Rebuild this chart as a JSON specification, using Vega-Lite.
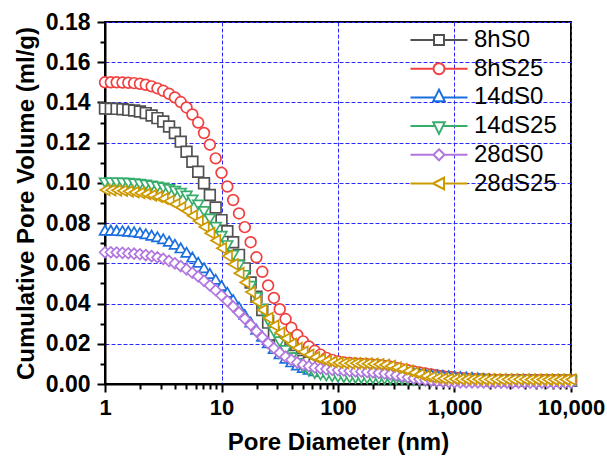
{
"$schema":"https://vega.github.io/schema/vega-lite/v6.json",
"width":466,"height":362,
"autosize":{"type":"none"},
"padding":{"left":105,"top":22,"right":36,"bottom":77},
"background":"white",
"config":{"view":{"stroke":"black","strokeWidth":2},"font":"Liberation Sans"},
"datasets":{"d":[
{"s":"8hS0","x":1,"y":0.137},{"s":"8hS0","x":1.122,"y":0.1369},{"s":"8hS0","x":1.259,"y":0.1368},{"s":"8hS0","x":1.413,"y":0.1366},{"s":"8hS0","x":1.585,"y":0.1363},{"s":"8hS0","x":1.778,"y":0.136},{"s":"8hS0","x":1.995,"y":0.1355},{"s":"8hS0","x":2.239,"y":0.1347},{"s":"8hS0","x":2.512,"y":0.1335},{"s":"8hS0","x":2.818,"y":0.1322},
{"s":"8hS0","x":3.162,"y":0.1305},{"s":"8hS0","x":3.548,"y":0.128},{"s":"8hS0","x":3.981,"y":0.1248},{"s":"8hS0","x":4.467,"y":0.1205},{"s":"8hS0","x":5.012,"y":0.1155},{"s":"8hS0","x":5.623,"y":0.1105},{"s":"8hS0","x":6.31,"y":0.1055},{"s":"8hS0","x":7.079,"y":0.0998},{"s":"8hS0","x":7.943,"y":0.094},{"s":"8hS0","x":8.913,"y":0.0878},
{"s":"8hS0","x":10,"y":0.0815},{"s":"8hS0","x":11.22,"y":0.076},{"s":"8hS0","x":12.59,"y":0.0705},{"s":"8hS0","x":14.13,"y":0.0642},{"s":"8hS0","x":15.85,"y":0.0575},{"s":"8hS0","x":17.78,"y":0.0505},{"s":"8hS0","x":19.95,"y":0.0434},{"s":"8hS0","x":22.39,"y":0.0368},{"s":"8hS0","x":25.12,"y":0.0305},{"s":"8hS0","x":28.18,"y":0.0245},
{"s":"8hS0","x":31.62,"y":0.0195},{"s":"8hS0","x":35.48,"y":0.0163},{"s":"8hS0","x":39.81,"y":0.014},{"s":"8hS0","x":44.67,"y":0.0126},{"s":"8hS0","x":50.12,"y":0.0115},{"s":"8hS0","x":56.23,"y":0.0107},{"s":"8hS0","x":63.1,"y":0.0101},{"s":"8hS0","x":70.79,"y":0.0097},{"s":"8hS0","x":79.43,"y":0.0094},{"s":"8hS0","x":89.13,"y":0.0092},
{"s":"8hS0","x":100,"y":0.009},{"s":"8hS0","x":112.2,"y":0.0089},{"s":"8hS0","x":125.9,"y":0.0088},{"s":"8hS0","x":141.3,"y":0.0087},{"s":"8hS0","x":158.5,"y":0.0086},{"s":"8hS0","x":177.8,"y":0.0085},{"s":"8hS0","x":199.5,"y":0.0083},{"s":"8hS0","x":223.9,"y":0.0081},{"s":"8hS0","x":251.2,"y":0.0078},{"s":"8hS0","x":281.8,"y":0.0074},
{"s":"8hS0","x":316.2,"y":0.007},{"s":"8hS0","x":354.8,"y":0.0065},{"s":"8hS0","x":398.1,"y":0.006},{"s":"8hS0","x":446.7,"y":0.0055},{"s":"8hS0","x":501.2,"y":0.005},{"s":"8hS0","x":562.3,"y":0.0045},{"s":"8hS0","x":631,"y":0.0041},{"s":"8hS0","x":707.9,"y":0.0037},{"s":"8hS0","x":794.3,"y":0.0034},{"s":"8hS0","x":891.3,"y":0.0031},
{"s":"8hS0","x":1000,"y":0.0028},{"s":"8hS0","x":1122,"y":0.0026},{"s":"8hS0","x":1259,"y":0.0024},{"s":"8hS0","x":1413,"y":0.0022},{"s":"8hS0","x":1585,"y":0.0021},{"s":"8hS0","x":1778,"y":0.002},{"s":"8hS0","x":1995,"y":0.0019},{"s":"8hS0","x":2239,"y":0.0019},{"s":"8hS0","x":2512,"y":0.0018},{"s":"8hS0","x":2818,"y":0.0018},
{"s":"8hS0","x":3162,"y":0.0018},{"s":"8hS0","x":3548,"y":0.0017},{"s":"8hS0","x":3981,"y":0.0017},{"s":"8hS0","x":4467,"y":0.0017},{"s":"8hS0","x":5012,"y":0.0017},{"s":"8hS0","x":5623,"y":0.0016},{"s":"8hS0","x":6310,"y":0.0016},{"s":"8hS0","x":7079,"y":0.0016},{"s":"8hS0","x":7943,"y":0.0016},{"s":"8hS0","x":8913,"y":0.0016},
{"s":"8hS0","x":10000,"y":0.0016},
{"s":"8hS25","x":1,"y":0.15},{"s":"8hS25","x":1.122,"y":0.15},{"s":"8hS25","x":1.259,"y":0.15},{"s":"8hS25","x":1.413,"y":0.1499},{"s":"8hS25","x":1.585,"y":0.1498},{"s":"8hS25","x":1.778,"y":0.1496},{"s":"8hS25","x":1.995,"y":0.1493},{"s":"8hS25","x":2.239,"y":0.1488},{"s":"8hS25","x":2.512,"y":0.148},{"s":"8hS25","x":2.818,"y":0.147},
{"s":"8hS25","x":3.162,"y":0.1458},{"s":"8hS25","x":3.548,"y":0.1443},{"s":"8hS25","x":3.981,"y":0.1425},{"s":"8hS25","x":4.467,"y":0.1402},{"s":"8hS25","x":5.012,"y":0.1375},{"s":"8hS25","x":5.623,"y":0.134},{"s":"8hS25","x":6.31,"y":0.13},{"s":"8hS25","x":7.079,"y":0.1248},{"s":"8hS25","x":7.943,"y":0.119},{"s":"8hS25","x":8.913,"y":0.1122},
{"s":"8hS25","x":10,"y":0.105},{"s":"8hS25","x":11.22,"y":0.0982},{"s":"8hS25","x":12.59,"y":0.0915},{"s":"8hS25","x":14.13,"y":0.0848},{"s":"8hS25","x":15.85,"y":0.078},{"s":"8hS25","x":17.78,"y":0.0705},{"s":"8hS25","x":19.95,"y":0.063},{"s":"8hS25","x":22.39,"y":0.0558},{"s":"8hS25","x":25.12,"y":0.049},{"s":"8hS25","x":28.18,"y":0.0428},
{"s":"8hS25","x":31.62,"y":0.0372},{"s":"8hS25","x":35.48,"y":0.0323},{"s":"8hS25","x":39.81,"y":0.028},{"s":"8hS25","x":44.67,"y":0.0244},{"s":"8hS25","x":50.12,"y":0.0212},{"s":"8hS25","x":56.23,"y":0.0187},{"s":"8hS25","x":63.1,"y":0.0165},{"s":"8hS25","x":70.79,"y":0.0146},{"s":"8hS25","x":79.43,"y":0.013},{"s":"8hS25","x":89.13,"y":0.012},
{"s":"8hS25","x":100,"y":0.0112},{"s":"8hS25","x":112.2,"y":0.0107},{"s":"8hS25","x":125.9,"y":0.0104},{"s":"8hS25","x":141.3,"y":0.0102},{"s":"8hS25","x":158.5,"y":0.01},{"s":"8hS25","x":177.8,"y":0.0098},{"s":"8hS25","x":199.5,"y":0.0096},{"s":"8hS25","x":223.9,"y":0.0093},{"s":"8hS25","x":251.2,"y":0.009},{"s":"8hS25","x":281.8,"y":0.0086},
{"s":"8hS25","x":316.2,"y":0.008},{"s":"8hS25","x":354.8,"y":0.0074},{"s":"8hS25","x":398.1,"y":0.0068},{"s":"8hS25","x":446.7,"y":0.0062},{"s":"8hS25","x":501.2,"y":0.0057},{"s":"8hS25","x":562.3,"y":0.0052},{"s":"8hS25","x":631,"y":0.0047},{"s":"8hS25","x":707.9,"y":0.0043},{"s":"8hS25","x":794.3,"y":0.0039},{"s":"8hS25","x":891.3,"y":0.0036},
{"s":"8hS25","x":1000,"y":0.0033},{"s":"8hS25","x":1122,"y":0.003},{"s":"8hS25","x":1259,"y":0.0028},{"s":"8hS25","x":1413,"y":0.0026},{"s":"8hS25","x":1585,"y":0.0024},{"s":"8hS25","x":1778,"y":0.0022},{"s":"8hS25","x":1995,"y":0.0021},{"s":"8hS25","x":2239,"y":0.002},{"s":"8hS25","x":2512,"y":0.0019},{"s":"8hS25","x":2818,"y":0.0019},
{"s":"8hS25","x":3162,"y":0.0018},{"s":"8hS25","x":3548,"y":0.0018},{"s":"8hS25","x":3981,"y":0.0018},{"s":"8hS25","x":4467,"y":0.0017},{"s":"8hS25","x":5012,"y":0.0017},{"s":"8hS25","x":5623,"y":0.0017},{"s":"8hS25","x":6310,"y":0.0017},{"s":"8hS25","x":7079,"y":0.0016},{"s":"8hS25","x":7943,"y":0.0016},{"s":"8hS25","x":8913,"y":0.0016},
{"s":"8hS25","x":10000,"y":0.0016},
{"s":"14dS0","x":1,"y":0.0765},{"s":"14dS0","x":1.122,"y":0.0765},{"s":"14dS0","x":1.259,"y":0.0764},{"s":"14dS0","x":1.413,"y":0.0762},{"s":"14dS0","x":1.585,"y":0.076},{"s":"14dS0","x":1.778,"y":0.0757},{"s":"14dS0","x":1.995,"y":0.0753},{"s":"14dS0","x":2.239,"y":0.0747},{"s":"14dS0","x":2.512,"y":0.074},{"s":"14dS0","x":2.818,"y":0.0732},
{"s":"14dS0","x":3.162,"y":0.0722},{"s":"14dS0","x":3.548,"y":0.071},{"s":"14dS0","x":3.981,"y":0.0695},{"s":"14dS0","x":4.467,"y":0.0677},{"s":"14dS0","x":5.012,"y":0.0655},{"s":"14dS0","x":5.623,"y":0.0631},{"s":"14dS0","x":6.31,"y":0.0605},{"s":"14dS0","x":7.079,"y":0.0578},{"s":"14dS0","x":7.943,"y":0.055},{"s":"14dS0","x":8.913,"y":0.0521},
{"s":"14dS0","x":10,"y":0.049},{"s":"14dS0","x":11.22,"y":0.0456},{"s":"14dS0","x":12.59,"y":0.042},{"s":"14dS0","x":14.13,"y":0.0383},{"s":"14dS0","x":15.85,"y":0.0345},{"s":"14dS0","x":17.78,"y":0.0308},{"s":"14dS0","x":19.95,"y":0.0272},{"s":"14dS0","x":22.39,"y":0.0238},{"s":"14dS0","x":25.12,"y":0.0205},{"s":"14dS0","x":28.18,"y":0.0176},
{"s":"14dS0","x":31.62,"y":0.015},{"s":"14dS0","x":35.48,"y":0.0128},{"s":"14dS0","x":39.81,"y":0.011},{"s":"14dS0","x":44.67,"y":0.0095},{"s":"14dS0","x":50.12,"y":0.0082},{"s":"14dS0","x":56.23,"y":0.0073},{"s":"14dS0","x":63.1,"y":0.0066},{"s":"14dS0","x":70.79,"y":0.0062},{"s":"14dS0","x":79.43,"y":0.006},{"s":"14dS0","x":89.13,"y":0.0059},
{"s":"14dS0","x":100,"y":0.0058},{"s":"14dS0","x":112.2,"y":0.0058},{"s":"14dS0","x":125.9,"y":0.0058},{"s":"14dS0","x":141.3,"y":0.0058},{"s":"14dS0","x":158.5,"y":0.0058},{"s":"14dS0","x":177.8,"y":0.0058},{"s":"14dS0","x":199.5,"y":0.0058},{"s":"14dS0","x":223.9,"y":0.0058},{"s":"14dS0","x":251.2,"y":0.0058},{"s":"14dS0","x":281.8,"y":0.0058},
{"s":"14dS0","x":316.2,"y":0.0058},{"s":"14dS0","x":354.8,"y":0.0058},{"s":"14dS0","x":398.1,"y":0.0057},{"s":"14dS0","x":446.7,"y":0.0055},{"s":"14dS0","x":501.2,"y":0.0053},{"s":"14dS0","x":562.3,"y":0.005},{"s":"14dS0","x":631,"y":0.0048},{"s":"14dS0","x":707.9,"y":0.0045},{"s":"14dS0","x":794.3,"y":0.0043},{"s":"14dS0","x":891.3,"y":0.0041},
{"s":"14dS0","x":1000,"y":0.0039},{"s":"14dS0","x":1122,"y":0.0037},{"s":"14dS0","x":1259,"y":0.0035},{"s":"14dS0","x":1413,"y":0.0033},{"s":"14dS0","x":1585,"y":0.003},{"s":"14dS0","x":1778,"y":0.0027},{"s":"14dS0","x":1995,"y":0.0024},{"s":"14dS0","x":2239,"y":0.0021},{"s":"14dS0","x":2512,"y":0.0019},{"s":"14dS0","x":2818,"y":0.0017},
{"s":"14dS0","x":3162,"y":0.0016},{"s":"14dS0","x":3548,"y":0.0015},{"s":"14dS0","x":3981,"y":0.0014},{"s":"14dS0","x":4467,"y":0.0014},{"s":"14dS0","x":5012,"y":0.0013},{"s":"14dS0","x":5623,"y":0.0013},{"s":"14dS0","x":6310,"y":0.0013},{"s":"14dS0","x":7079,"y":0.0012},{"s":"14dS0","x":7943,"y":0.0012},{"s":"14dS0","x":8913,"y":0.0012},
{"s":"14dS0","x":10000,"y":0.0012},
{"s":"14dS25","x":1,"y":0.1},{"s":"14dS25","x":1.122,"y":0.1},{"s":"14dS25","x":1.259,"y":0.1},{"s":"14dS25","x":1.413,"y":0.0999},{"s":"14dS25","x":1.585,"y":0.0998},{"s":"14dS25","x":1.778,"y":0.0996},{"s":"14dS25","x":1.995,"y":0.0993},{"s":"14dS25","x":2.239,"y":0.0989},{"s":"14dS25","x":2.512,"y":0.0985},{"s":"14dS25","x":2.818,"y":0.098},
{"s":"14dS25","x":3.162,"y":0.0975},{"s":"14dS25","x":3.548,"y":0.0967},{"s":"14dS25","x":3.981,"y":0.0958},{"s":"14dS25","x":4.467,"y":0.0948},{"s":"14dS25","x":5.012,"y":0.0935},{"s":"14dS25","x":5.623,"y":0.0915},{"s":"14dS25","x":6.31,"y":0.089},{"s":"14dS25","x":7.079,"y":0.0858},{"s":"14dS25","x":7.943,"y":0.082},{"s":"14dS25","x":8.913,"y":0.0779},
{"s":"14dS25","x":10,"y":0.0735},{"s":"14dS25","x":11.22,"y":0.0688},{"s":"14dS25","x":12.59,"y":0.064},{"s":"14dS25","x":14.13,"y":0.059},{"s":"14dS25","x":15.85,"y":0.054},{"s":"14dS25","x":17.78,"y":0.0486},{"s":"14dS25","x":19.95,"y":0.043},{"s":"14dS25","x":22.39,"y":0.0372},{"s":"14dS25","x":25.12,"y":0.0315},{"s":"14dS25","x":28.18,"y":0.026},
{"s":"14dS25","x":31.62,"y":0.021},{"s":"14dS25","x":35.48,"y":0.0166},{"s":"14dS25","x":39.81,"y":0.013},{"s":"14dS25","x":44.67,"y":0.0102},{"s":"14dS25","x":50.12,"y":0.008},{"s":"14dS25","x":56.23,"y":0.0064},{"s":"14dS25","x":63.1,"y":0.0052},{"s":"14dS25","x":70.79,"y":0.0045},{"s":"14dS25","x":79.43,"y":0.004},{"s":"14dS25","x":89.13,"y":0.0036},
{"s":"14dS25","x":100,"y":0.0034},{"s":"14dS25","x":112.2,"y":0.0032},{"s":"14dS25","x":125.9,"y":0.003},{"s":"14dS25","x":141.3,"y":0.0028},{"s":"14dS25","x":158.5,"y":0.0027},{"s":"14dS25","x":177.8,"y":0.0026},{"s":"14dS25","x":199.5,"y":0.0025},{"s":"14dS25","x":223.9,"y":0.0024},{"s":"14dS25","x":251.2,"y":0.0023},{"s":"14dS25","x":281.8,"y":0.0022},
{"s":"14dS25","x":316.2,"y":0.0021},{"s":"14dS25","x":354.8,"y":0.002},{"s":"14dS25","x":398.1,"y":0.0019},{"s":"14dS25","x":446.7,"y":0.0018},{"s":"14dS25","x":501.2,"y":0.0016},{"s":"14dS25","x":562.3,"y":0.0014},{"s":"14dS25","x":631,"y":0.0013},{"s":"14dS25","x":707.9,"y":0.0012},{"s":"14dS25","x":794.3,"y":0.0011},{"s":"14dS25","x":891.3,"y":0.0011},
{"s":"14dS25","x":1000,"y":0.001},{"s":"14dS25","x":1122,"y":0.001},{"s":"14dS25","x":1259,"y":0.001},{"s":"14dS25","x":1413,"y":0.001},{"s":"14dS25","x":1585,"y":0.001},{"s":"14dS25","x":1778,"y":0.001},{"s":"14dS25","x":1995,"y":0.001},{"s":"14dS25","x":2239,"y":0.001},{"s":"14dS25","x":2512,"y":0.0009},{"s":"14dS25","x":2818,"y":0.0009},
{"s":"14dS25","x":3162,"y":0.0009},{"s":"14dS25","x":3548,"y":0.0009},{"s":"14dS25","x":3981,"y":0.0009},{"s":"14dS25","x":4467,"y":0.0009},{"s":"14dS25","x":5012,"y":0.0009},{"s":"14dS25","x":5623,"y":0.0009},{"s":"14dS25","x":6310,"y":0.0009},{"s":"14dS25","x":7079,"y":0.0009},{"s":"14dS25","x":7943,"y":0.0009},{"s":"14dS25","x":8913,"y":0.0009},
{"s":"14dS25","x":10000,"y":0.0009},
{"s":"28dS0","x":1,"y":0.0655},{"s":"28dS0","x":1.122,"y":0.0655},{"s":"28dS0","x":1.259,"y":0.0654},{"s":"28dS0","x":1.413,"y":0.0652},{"s":"28dS0","x":1.585,"y":0.065},{"s":"28dS0","x":1.778,"y":0.0648},{"s":"28dS0","x":1.995,"y":0.0645},{"s":"28dS0","x":2.239,"y":0.0641},{"s":"28dS0","x":2.512,"y":0.0636},{"s":"28dS0","x":2.818,"y":0.063},
{"s":"28dS0","x":3.162,"y":0.0622},{"s":"28dS0","x":3.548,"y":0.0612},{"s":"28dS0","x":3.981,"y":0.06},{"s":"28dS0","x":4.467,"y":0.0586},{"s":"28dS0","x":5.012,"y":0.057},{"s":"28dS0","x":5.623,"y":0.0553},{"s":"28dS0","x":6.31,"y":0.0535},{"s":"28dS0","x":7.079,"y":0.0513},{"s":"28dS0","x":7.943,"y":0.049},{"s":"28dS0","x":8.913,"y":0.0466},
{"s":"28dS0","x":10,"y":0.044},{"s":"28dS0","x":11.22,"y":0.0413},{"s":"28dS0","x":12.59,"y":0.0385},{"s":"28dS0","x":14.13,"y":0.0355},{"s":"28dS0","x":15.85,"y":0.0325},{"s":"28dS0","x":17.78,"y":0.0294},{"s":"28dS0","x":19.95,"y":0.0262},{"s":"28dS0","x":22.39,"y":0.0232},{"s":"28dS0","x":25.12,"y":0.0203},{"s":"28dS0","x":28.18,"y":0.0178},
{"s":"28dS0","x":31.62,"y":0.0155},{"s":"28dS0","x":35.48,"y":0.0136},{"s":"28dS0","x":39.81,"y":0.012},{"s":"28dS0","x":44.67,"y":0.0107},{"s":"28dS0","x":50.12,"y":0.0096},{"s":"28dS0","x":56.23,"y":0.0088},{"s":"28dS0","x":63.1,"y":0.0082},{"s":"28dS0","x":70.79,"y":0.0078},{"s":"28dS0","x":79.43,"y":0.0074},{"s":"28dS0","x":89.13,"y":0.0071},
{"s":"28dS0","x":100,"y":0.0069},{"s":"28dS0","x":112.2,"y":0.0067},{"s":"28dS0","x":125.9,"y":0.0065},{"s":"28dS0","x":141.3,"y":0.0063},{"s":"28dS0","x":158.5,"y":0.0062},{"s":"28dS0","x":177.8,"y":0.006},{"s":"28dS0","x":199.5,"y":0.0058},{"s":"28dS0","x":223.9,"y":0.0055},{"s":"28dS0","x":251.2,"y":0.0052},{"s":"28dS0","x":281.8,"y":0.0048},
{"s":"28dS0","x":316.2,"y":0.0043},{"s":"28dS0","x":354.8,"y":0.0038},{"s":"28dS0","x":398.1,"y":0.0033},{"s":"28dS0","x":446.7,"y":0.0028},{"s":"28dS0","x":501.2,"y":0.0024},{"s":"28dS0","x":562.3,"y":0.002},{"s":"28dS0","x":631,"y":0.0017},{"s":"28dS0","x":707.9,"y":0.0014},{"s":"28dS0","x":794.3,"y":0.0012},{"s":"28dS0","x":891.3,"y":0.001},
{"s":"28dS0","x":1000,"y":0.0009},{"s":"28dS0","x":1122,"y":0.0008},{"s":"28dS0","x":1259,"y":0.0008},{"s":"28dS0","x":1413,"y":0.0008},{"s":"28dS0","x":1585,"y":0.0008},{"s":"28dS0","x":1778,"y":0.0008},{"s":"28dS0","x":1995,"y":0.0007},{"s":"28dS0","x":2239,"y":0.0007},{"s":"28dS0","x":2512,"y":0.0007},{"s":"28dS0","x":2818,"y":0.0007},
{"s":"28dS0","x":3162,"y":0.0007},{"s":"28dS0","x":3548,"y":0.0007},{"s":"28dS0","x":3981,"y":0.0007},{"s":"28dS0","x":4467,"y":0.0006},{"s":"28dS0","x":5012,"y":0.0006},{"s":"28dS0","x":5623,"y":0.0006},{"s":"28dS0","x":6310,"y":0.0006},{"s":"28dS0","x":7079,"y":0.0006},{"s":"28dS0","x":7943,"y":0.0006},{"s":"28dS0","x":8913,"y":0.0006},
{"s":"28dS0","x":10000,"y":0.0006},
{"s":"28dS25","x":1,"y":0.0965},{"s":"28dS25","x":1.122,"y":0.0964},{"s":"28dS25","x":1.259,"y":0.0963},{"s":"28dS25","x":1.413,"y":0.0961},{"s":"28dS25","x":1.585,"y":0.0958},{"s":"28dS25","x":1.778,"y":0.0954},{"s":"28dS25","x":1.995,"y":0.095},{"s":"28dS25","x":2.239,"y":0.0945},{"s":"28dS25","x":2.512,"y":0.0938},{"s":"28dS25","x":2.818,"y":0.0931},
{"s":"28dS25","x":3.162,"y":0.0922},{"s":"28dS25","x":3.548,"y":0.091},{"s":"28dS25","x":3.981,"y":0.0895},{"s":"28dS25","x":4.467,"y":0.0878},{"s":"28dS25","x":5.012,"y":0.086},{"s":"28dS25","x":5.623,"y":0.0837},{"s":"28dS25","x":6.31,"y":0.081},{"s":"28dS25","x":7.079,"y":0.0781},{"s":"28dS25","x":7.943,"y":0.075},{"s":"28dS25","x":8.913,"y":0.0714},
{"s":"28dS25","x":10,"y":0.0675},{"s":"28dS25","x":11.22,"y":0.0636},{"s":"28dS25","x":12.59,"y":0.0595},{"s":"28dS25","x":14.13,"y":0.0551},{"s":"28dS25","x":15.85,"y":0.0505},{"s":"28dS25","x":17.78,"y":0.0457},{"s":"28dS25","x":19.95,"y":0.041},{"s":"28dS25","x":22.39,"y":0.0368},{"s":"28dS25","x":25.12,"y":0.0328},{"s":"28dS25","x":28.18,"y":0.029},
{"s":"28dS25","x":31.62,"y":0.0255},{"s":"28dS25","x":35.48,"y":0.0226},{"s":"28dS25","x":39.81,"y":0.02},{"s":"28dS25","x":44.67,"y":0.0179},{"s":"28dS25","x":50.12,"y":0.016},{"s":"28dS25","x":56.23,"y":0.0145},{"s":"28dS25","x":63.1,"y":0.0133},{"s":"28dS25","x":70.79,"y":0.0123},{"s":"28dS25","x":79.43,"y":0.0115},{"s":"28dS25","x":89.13,"y":0.011},
{"s":"28dS25","x":100,"y":0.0106},{"s":"28dS25","x":112.2,"y":0.0104},{"s":"28dS25","x":125.9,"y":0.0103},{"s":"28dS25","x":141.3,"y":0.0103},{"s":"28dS25","x":158.5,"y":0.0102},{"s":"28dS25","x":177.8,"y":0.0101},{"s":"28dS25","x":199.5,"y":0.01},{"s":"28dS25","x":223.9,"y":0.0098},{"s":"28dS25","x":251.2,"y":0.0095},{"s":"28dS25","x":281.8,"y":0.0089},
{"s":"28dS25","x":316.2,"y":0.0082},{"s":"28dS25","x":354.8,"y":0.0074},{"s":"28dS25","x":398.1,"y":0.0065},{"s":"28dS25","x":446.7,"y":0.0056},{"s":"28dS25","x":501.2,"y":0.0048},{"s":"28dS25","x":562.3,"y":0.004},{"s":"28dS25","x":631,"y":0.0034},{"s":"28dS25","x":707.9,"y":0.003},{"s":"28dS25","x":794.3,"y":0.0027},{"s":"28dS25","x":891.3,"y":0.0026},
{"s":"28dS25","x":1000,"y":0.0025},{"s":"28dS25","x":1122,"y":0.0024},{"s":"28dS25","x":1259,"y":0.0024},{"s":"28dS25","x":1413,"y":0.0024},{"s":"28dS25","x":1585,"y":0.0024},{"s":"28dS25","x":1778,"y":0.0023},{"s":"28dS25","x":1995,"y":0.0023},{"s":"28dS25","x":2239,"y":0.0023},{"s":"28dS25","x":2512,"y":0.0023},{"s":"28dS25","x":2818,"y":0.0023},
{"s":"28dS25","x":3162,"y":0.0023},{"s":"28dS25","x":3548,"y":0.0023},{"s":"28dS25","x":3981,"y":0.0023},{"s":"28dS25","x":4467,"y":0.0022},{"s":"28dS25","x":5012,"y":0.0022},{"s":"28dS25","x":5623,"y":0.0022},{"s":"28dS25","x":6310,"y":0.0022},{"s":"28dS25","x":7079,"y":0.0022},{"s":"28dS25","x":7943,"y":0.0022},{"s":"28dS25","x":8913,"y":0.0022},
{"s":"28dS25","x":10000,"y":0.0022}
]},
"layer":[
{"data":{"name":"d"},
"mark":{"type":"point","filled":false,"fill":"white","fillOpacity":1,"opacity":1,"size":115,"strokeWidth":1.7,"clip":false},
"encoding":{
"x":{"field":"x","type":"quantitative","scale":{"type":"log","domain":[1,10000],"nice":false},
"axis":{"orient":"bottom","values":[1,10,100,1000,10000],"format":",","title":"Pore Diameter (nm)","titleFont":"Liberation Sans","titleFontSize":24,"titleFontWeight":"bold","titleColor":"black","titlePadding":12,"labelFont":"Liberation Sans","labelFontSize":22,"labelFontWeight":"bold","labelColor":"black","labelPadding":5,"labelFlush":false,"labelOverlap":false,"tickSize":8,"tickWidth":2,"tickColor":"black","domainColor":"black","domainWidth":2,"grid":true,"gridColor":"#2a2aff","gridDash":[4,2],"gridWidth":1}},
"y":{"field":"y","type":"quantitative","scale":{"domain":[0,0.18],"nice":false,"zero":false},
"axis":{"orient":"left","values":[0,0.02,0.04,0.06,0.08,0.1,0.12,0.14,0.16,0.18],"format":".2f","title":"Cumulative Pore Volume (ml/g)","titleFont":"Liberation Sans","titleFontSize":24,"titleFontWeight":"bold","titleColor":"black","titlePadding":7,"labelFont":"Liberation Sans","labelFontSize":23,"labelFontWeight":"bold","labelColor":"black","labelPadding":7,"labelFlush":false,"labelOverlap":false,"tickSize":8,"tickWidth":2,"tickColor":"black","domainColor":"black","domainWidth":2,"grid":true,"gridColor":"#2a2aff","gridDash":[4,2],"gridWidth":1}},
"color":{"field":"s","type":"nominal","scale":{"domain":["8hS0","8hS25","14dS0","14dS25","28dS0","28dS25"],"range":["#515151","#F14040","#1A6FDF","#37AD6B","#B177DE","#CC9900"]},"legend":null},
"shape":{"field":"s","type":"nominal","scale":{"domain":["8hS0","8hS25","14dS0","14dS25","28dS0","28dS25"],"range":["square","circle","triangle-up","triangle-down","diamond","triangle-left"]},"legend":null}
}},
{"data":{"name":"d"},
"transform":[{"filter":"false"}],
"mark":{"type":"point","filled":false,"fill":"white","opacity":1,"size":100,"strokeWidth":2},
"encoding":{
"x":{"field":"x","type":"quantitative","scale":{"type":"log","domain":[1,10000],"nice":false},
"axis":{"orient":"bottom","values":[2,3,4,5,6,7,8,9,20,30,40,50,60,70,80,90,200,300,400,500,600,700,800,900,2000,3000,4000,5000,6000,7000,8000,9000],"labels":false,"title":null,"grid":false,"domain":false,"tickSize":5,"tickWidth":2,"tickColor":"black"}},
"y":{"field":"y","type":"quantitative","scale":{"domain":[0,0.18],"nice":false,"zero":false},
"axis":{"orient":"left","values":[0.01,0.03,0.05,0.07,0.09,0.11,0.13,0.15,0.17],"labels":false,"title":null,"grid":false,"domain":false,"tickSize":5,"tickWidth":2,"tickColor":"black"}},
"color":{"field":"s","type":"nominal","scale":{"domain":["8hS0","8hS25","14dS0","14dS25","28dS0","28dS25"],"range":["#515151","#F14040","#1A6FDF","#37AD6B","#B177DE","#CC9900"]},
"legend":{"orient":"none","legendX":322,"legendY":6,"title":null,"padding":0,"labelFont":"Liberation Sans","labelFontSize":24,"labelFontWeight":"normal","labelColor":"black","labelOffset":23,"labelBaseline":"middle","symbolSize":100,"symbolStrokeWidth":2,"symbolFillColor":"white","rowPadding":4.7}},
"shape":{"field":"s","type":"nominal","scale":{"domain":["8hS0","8hS25","14dS0","14dS25","28dS0","28dS25"],"range":["M-5.7,0H-1M1,0H5.7M-1,-1H1V1H-1Z","M-5.7,0H-1.1M1.1,0H5.7M-1.1,0A1.1,1.1,0,1,1,1.1,0A1.1,1.1,0,1,1,-1.1,0Z","M-5.7,0H-0.78M0.78,0H5.7M0,-1.55L1.15,0.75H-1.15Z","M-5.7,0H-0.78M0.78,0H5.7M0,1.55L1.15,-0.75H-1.15Z","M-5.7,0H-1.1M1.1,0H5.7M0,-1.1L1.1,0L0,1.1L-1.1,0Z","M-5.7,0H-1.2M1,0H5.7M-1.2,0L1,-1.15V1.15Z"]},
"legend":{"orient":"none","legendX":322,"legendY":6,"title":null,"padding":0,"labelFont":"Liberation Sans","labelFontSize":24,"labelFontWeight":"normal","labelColor":"black","labelOffset":23,"labelBaseline":"middle","symbolSize":100,"symbolStrokeWidth":2,"symbolFillColor":"white","rowPadding":4.7}}
}}
],
"resolve":{"scale":{"color":"independent","shape":"independent"},"axis":{"x":"independent","y":"independent"}}
}
